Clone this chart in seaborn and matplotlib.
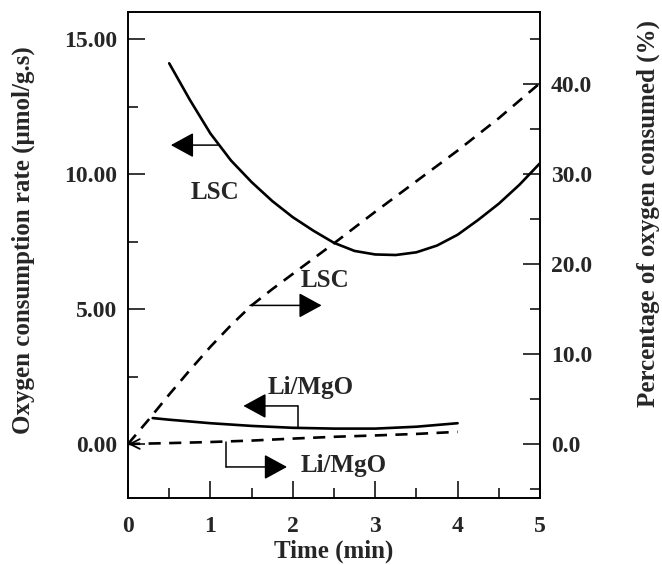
import matplotlib
matplotlib.use("Agg")
import matplotlib.pyplot as plt
from matplotlib.ticker import MultipleLocator, FormatStrFormatter
import seaborn as sns

# Oxygen consumption rate (umol/g.s), left axis
time_lsc_rate = [0.5, 0.75, 1.0, 1.25, 1.5, 1.75, 2.0, 2.25, 2.5, 2.75, 3.0,
                 3.25, 3.5, 3.75, 4.0, 4.25, 4.5, 4.75, 5.0]
lsc_rate = [14.1, 12.75, 11.5, 10.5, 9.7, 9.0, 8.4, 7.9, 7.45, 7.15, 7.02,
            7.0, 7.1, 7.35, 7.75, 8.3, 8.9, 9.6, 10.4]

time_limgo_rate = [0.3, 0.5, 1.0, 1.5, 2.0, 2.5, 3.0, 3.5, 4.0]
limgo_rate = [0.96, 0.9, 0.77, 0.67, 0.6, 0.57, 0.57, 0.64, 0.77]

# Percentage of oxygen consumed (%), right axis
time_lsc_pct = [0, 0.25, 0.5, 0.75, 1.0, 1.25, 1.5, 1.75, 2.0, 2.5, 3.0,
                3.5, 4.0, 4.5, 5.0]
lsc_pct = [0, 2.7, 5.5, 8.2, 10.8, 13.2, 15.4, 17.2, 18.9, 22.3, 25.8,
           29.2, 32.6, 36.2, 40.1]

time_limgo_pct = [0, 0.5, 1.0, 1.5, 2.0, 2.5, 3.0, 3.5, 4.0]
limgo_pct = [0, 0.1, 0.22, 0.38, 0.6, 0.8, 0.95, 1.12, 1.35]

sns.set_theme(style="ticks")
plt.rcParams["font.family"] = ["Liberation Serif", "DejaVu Serif"]
plt.rcParams["font.weight"] = "bold"
plt.rcParams["axes.labelweight"] = "bold"

fig = plt.figure(figsize=(6.62, 5.65), dpi=100)
ax = fig.add_axes([128 / 662, 67 / 565, 412 / 662, 486 / 565])
ax2 = ax.twinx()

LW = 1.9
dash = (0, (4.6, 3.2))

sns.lineplot(x=time_lsc_rate, y=lsc_rate, ax=ax, color="black", lw=LW,
             estimator=None, sort=False)
sns.lineplot(x=time_limgo_rate, y=limgo_rate, ax=ax, color="black", lw=LW,
             estimator=None, sort=False)
sns.lineplot(x=time_lsc_pct, y=lsc_pct, ax=ax2, color="black", lw=LW,
             linestyle=dash, estimator=None, sort=False)
sns.lineplot(x=time_limgo_pct, y=limgo_pct, ax=ax2, color="black", lw=LW,
             linestyle=dash, estimator=None, sort=False)

ax.set_xlim(0, 5)
ax.set_ylim(-2, 16)
ax2.set_ylim(-6, 48)

ax.xaxis.set_major_locator(MultipleLocator(1))
ax.xaxis.set_minor_locator(MultipleLocator(0.5))
ax.yaxis.set_major_locator(MultipleLocator(5))
ax.yaxis.set_minor_locator(MultipleLocator(2.5))
ax.yaxis.set_major_formatter(FormatStrFormatter("%.2f"))
ax2.yaxis.set_major_locator(MultipleLocator(10))
ax2.yaxis.set_minor_locator(MultipleLocator(5))
ax2.yaxis.set_major_formatter(FormatStrFormatter("%.1f"))

for a in (ax, ax2):
    for s in a.spines.values():
        s.set_linewidth(1.2)
        s.set_color("black")
    a.tick_params(which="both", direction="in", width=1.1, color="black",
                  labelsize=17)
    a.tick_params(which="major", length=12)
    a.tick_params(which="minor", length=7)
ax.tick_params(axis="x", which="both", top=False, pad=13)
ax.tick_params(axis="y", which="both", right=False, pad=8)
ax2.tick_params(axis="y", which="both", left=False, pad=8)
for lab in ax.get_xticklabels() + ax.get_yticklabels() + ax2.get_yticklabels():
    lab.set_fontweight("bold")

ax.set_xlabel("Time (min)", fontsize=18, fontweight="bold", labelpad=2)
ax.set_ylabel("Oxygen consumption rate (\u03bcmol/g.s)", fontsize=18,
              fontweight="bold")
ax.yaxis.set_label_coords(-0.225, 0.53)
ax2.set_ylabel("Percentage of oxygen consumed (%)", fontsize=18,
               fontweight="bold")
ax2.yaxis.set_label_coords(1.235, 0.585)

head = dict(arrowstyle="-|>,head_length=0.55,head_width=0.3", color="black",
            lw=1.1, mutation_scale=26, shrinkA=0, shrinkB=0)
TXT = dict(fontsize=18, fontweight="bold", ha="center", va="center")

# LSC rate -> left axis
ax.annotate("", xy=(0.52, 11.07), xytext=(1.09, 11.07), arrowprops=head)
ax.text(1.06, 9.33, "LSC", **TXT)

# LSC percentage -> right axis
ax2.annotate("", xy=(2.35, 15.4), xytext=(1.48, 15.4), arrowprops=head)
ax2.text(2.39, 18.2, "LSC", **TXT)

# Li/MgO rate -> left axis
ax.plot([2.06, 2.06], [0.6, 1.41], color="black", lw=1.1)
ax.annotate("", xy=(1.40, 1.41), xytext=(2.06, 1.41), arrowprops=head)
ax.text(2.22, 2.1, "Li/MgO", **TXT)

# Li/MgO percentage -> right axis
ax2.plot([1.19, 1.19], [0.2, -2.55], color="black", lw=1.1)
ax2.annotate("", xy=(1.93, -2.55), xytext=(1.19, -2.55), arrowprops=head)
ax2.text(2.62, -2.4, "Li/MgO", **TXT)

# open arrowhead at the origin
ax2.annotate("", xy=(0.0, 0.0), xytext=(0.13, 0.0),
             arrowprops=dict(arrowstyle="->,head_length=0.5,head_width=0.25",
                             color="black", lw=1.3, mutation_scale=14,
                             shrinkA=0, shrinkB=0))

fig.savefig("out.png", dpi=100)
